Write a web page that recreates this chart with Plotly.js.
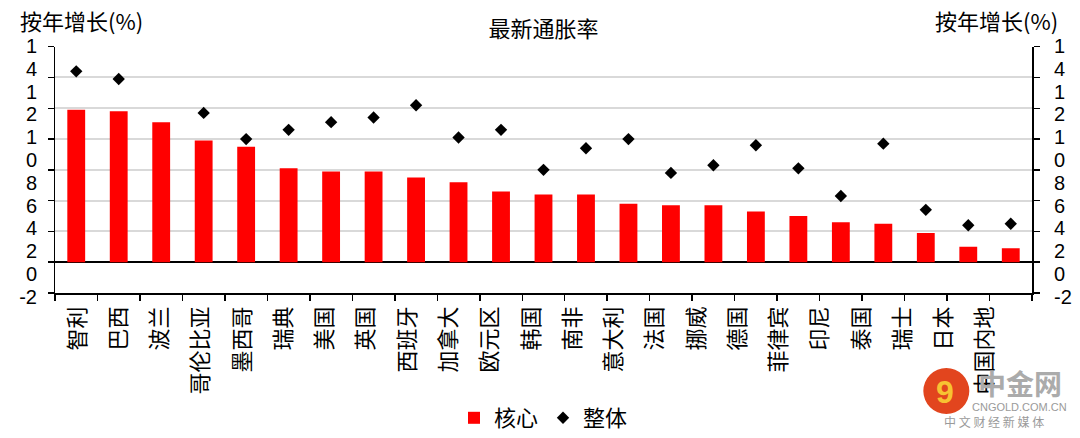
<!DOCTYPE html>
<html>
<head>
<meta charset="utf-8">
<script src="https://cdn.plot.ly/plotly-3.0.1.min.js"></script>
<style>html,body{margin:0;padding:0;background:#fff;}#chart{width:1080px;height:438px;}</style>
</head>
<body>
<div id="chart"></div>
<script>
const categories = ["智利","巴西","波兰","哥伦比亚","墨西哥","瑞典","美国","英国","西班牙","加拿大","欧元区","韩国","南非","意大利","法国","挪威","德国","菲律宾","印尼","泰国","瑞士","日本","中国内地"];
const coreValues = [9.9, 9.8, 9.1, 7.9, 7.5, 6.1, 5.9, 5.9, 5.5, 5.2, 4.6, 4.4, 4.4, 3.8, 3.7, 3.7, 3.3, 3.0, 2.6, 2.5, 1.9, 1.0, 0.9];
const headlineValues = [12.4, 11.9, null, 9.7, 8.0, 8.6, 9.1, 9.4, 10.2, 8.1, 8.6, 6.0, 7.4, 8.0, 5.8, 6.3, 7.6, 6.1, 4.3, 7.7, 3.4, 2.4, 2.5];
const yTickText = ["-2","0","2","4","6","8","0","1","2","1","4","1"];
const seriesNames = ["核心","整体"];
const titleText = "最新通胀率";
const yTitleText = "按年增长(%)";

const CJK = "Noto Sans CJK SC, Liberation Sans, sans-serif";
const LAT = "Liberation Sans, Noto Sans CJK SC, sans-serif";

const labelIdx = categories.map((c, i) => i);
const yLabelIdx = yTickText.map((t, i) => i);
const noY = categories.map(() => null);

// helper (invisible) traces only so that the label axes get drawn
const helper = (xa, ya) => ({type:'scatter', mode:'markers', x:labelIdx.slice(), y:noY.slice(), xaxis:xa, yaxis:ya,
  showlegend:false, hoverinfo:'skip', marker:{opacity:0}});

const traces = [
  {type:'bar', name:seriesNames[0], x:categories, y:coreValues, xaxis:'x', yaxis:'y',
   marker:{color:'#ff0000', line:{width:0}}, hoverinfo:'x+y'},
  {type:'scatter', mode:'markers', name:seriesNames[1], x:categories, y:headlineValues, xaxis:'x', yaxis:'y2',
   marker:{symbol:'diamond', size:9.5, color:'#000000', line:{width:0}}, hoverinfo:'x+y'},
  helper('x2','y'),
  helper('x2','y3'),
  helper('x2','y4')
];

const PW = 977.2, PH = 260, PL = 54.5, PB = 300;
const px2x = p => (p - PL) / PW;
const px2y = p => (PB - p) / PH;

const yLabelAxis = {
  domain:[0,1], anchor:'free', range:[-0.145, 11.264], autorange:false,
  tickmode:'array', tickvals:yLabelIdx, ticktext:yTickText, ticks:'',
  showline:false, showgrid:false, zeroline:false, fixedrange:true, automargin:false,
  tickfont:{family:LAT, size:20, color:'#000'}, ticklabelstandoff:18
};

const layout = {
  width:1080, height:438,
  margin:{l:54.5, r:48.3, t:40, b:138, pad:0, autoexpand:false},
  paper_bgcolor:'#ffffff', plot_bgcolor:'rgba(0,0,0,0)',
  font:{family:LAT, size:20, color:'#000'},
  showlegend:true,
  legend:{orientation:'h', x:0.5, xanchor:'center', y:px2y(418), yanchor:'middle',
          font:{family:CJK, size:22, color:'#000'}, itemwidth:30, traceorder:'normal', bgcolor:'rgba(0,0,0,0)'},
  bargap:0.58,
  title:{text:titleText, x:0.5, xref:'paper', xanchor:'center', y:1-29/438, yref:'container', yanchor:'middle',
         font:{family:CJK, size:22, color:'#000'}},
  xaxis:{type:'category', range:[-0.5, categories.length-0.5], autorange:false, anchor:'y',
         showline:true, linecolor:'#000', linewidth:1.5, ticks:'outside', ticklen:6, tickwidth:1.5, tickcolor:'#000',
         tickson:'boundaries', showticklabels:false, showgrid:false, zeroline:false, fixedrange:true, automargin:false},
  xaxis2:{overlaying:'x', anchor:'y', side:'bottom', type:'linear', range:[-0.545, 23.133], autorange:false,
          tickmode:'array', tickvals:labelIdx, ticktext:categories, tickangle:-90, ticks:'',
          showline:false, showgrid:false, zeroline:false, fixedrange:true, automargin:false,
          tickfont:{family:CJK, size:22, color:'#000'}, ticklabelstandoff:8},
  yaxis:{domain:[7/260, 1-6.7/260], range:[-2,14], autorange:false, tick0:0, dtick:2,
         showline:true, linecolor:'#000', linewidth:1.5, ticks:'outside', ticklen:6, tickwidth:1.5, tickcolor:'#000',
         showticklabels:false, showgrid:true, gridcolor:'#d9d9d9', gridwidth:2, automargin:false,
         zeroline:true, zerolinecolor:'#000', zerolinewidth:2, fixedrange:true},
  yaxis2:{overlaying:'y', side:'right', range:[-2,14], autorange:false, tick0:0, dtick:2,
          showline:true, linecolor:'#000', linewidth:1.5, ticks:'outside', ticklen:6, tickwidth:1.5, tickcolor:'#000',
          showticklabels:false, showgrid:false, zeroline:false, fixedrange:true, automargin:false},
  yaxis3:Object.assign({}, yLabelAxis, {side:'left', position:0}),
  yaxis4:Object.assign({}, yLabelAxis, {side:'right', position:1, ticklabelstandoff:21}),
  shapes:[
    {type:'circle', xref:'paper', yref:'paper', x0:px2x(923), x1:px2x(969), y0:px2y(414), y1:px2y(368),
     fillcolor:'#e2451e', line:{width:0}, layer:'above'}
  ],
  annotations:[
    {text:yTitleText, xref:'paper', yref:'paper', x:px2x(81), y:px2y(20), xanchor:'center', yanchor:'middle',
     showarrow:false, font:{family:CJK, size:22, color:'#000'}, borderpad:0},
    {text:yTitleText, xref:'paper', yref:'paper', x:px2x(996), y:px2y(20), xanchor:'center', yanchor:'middle',
     showarrow:false, font:{family:CJK, size:22, color:'#000'}, borderpad:0},
    {text:'<b>9</b>', xref:'paper', yref:'paper', x:px2x(945), y:px2y(392), xanchor:'center', yanchor:'middle',
     showarrow:false, font:{family:LAT, size:32, color:'#f7c232'}},
    {text:'<b>中金网</b>', xref:'paper', yref:'paper', x:px2x(1020), y:px2y(383), xanchor:'center', yanchor:'middle',
     showarrow:false, font:{family:CJK, size:28, color:'#ababab'}, borderpad:0},
    {text:'CNGOLD.COM.CN', xref:'paper', yref:'paper', x:px2x(1019), y:px2y(407), xanchor:'center', yanchor:'middle',
     showarrow:false, font:{family:LAT, size:11, color:'#9a9a9a'}, borderpad:0},
    {text:'中 文 财 经 新 媒 体', xref:'paper', yref:'paper', x:px2x(994), y:px2y(421), xanchor:'center', yanchor:'middle',
     showarrow:false, font:{family:CJK, size:12, color:'#9a9a9a'}, borderpad:0}
  ]
};

Plotly.newPlot('chart', traces, layout, {displayModeBar:false, staticPlot:true});
</script>
</body>
</html>
